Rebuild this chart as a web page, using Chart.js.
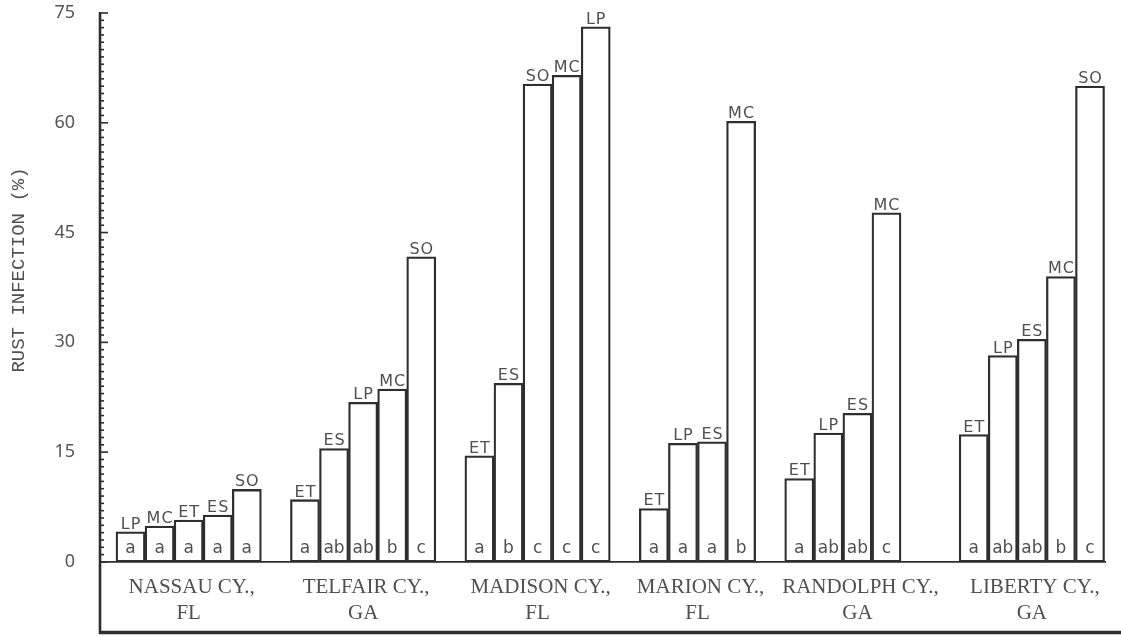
<!DOCTYPE html>
<html>
<head>
<meta charset="utf-8">
<title>Rust infection by county</title>
<script src="https://cdn.jsdelivr.net/npm/chart.js@4.4.1/dist/chart.umd.min.js"></script>
<style>
  html, body { margin: 0; padding: 0; background: #fff; }
  #wrap { width: 1121px; height: 637px; position: relative; }
</style>
</head>
<body>
<div id="wrap"><canvas id="rustChart"></canvas></div>
<script>
// counties (two-line labels)
const countyNames = ['NASSAU CY.,', 'TELFAIR CY.,', 'MADISON CY.,', 'MARION CY.,', 'RANDOLPH CY.,', 'LIBERTY CY.,'];
const countyStates = ['FL', 'GA', 'FL', 'FL', 'GA', 'GA'];

// treatments, rust infection (%) and mean-separation letters per county
const nassauTrt = ['LP', 'MC', 'ET', 'ES', 'SO'];
const nassauVals = [4.1, 4.9, 5.7, 6.4, 9.9];
const nassauLet = ['a', 'a', 'a', 'a', 'a'];

const telfairTrt = ['ET', 'ES', 'LP', 'MC', 'SO'];
const telfairVals = [8.5, 15.5, 21.8, 23.6, 41.7];
const telfairLet = ['a', 'ab', 'ab', 'b', 'c'];

const madisonTrt = ['ET', 'ES', 'SO', 'MC', 'LP'];
const madisonVals = [14.5, 24.4, 65.3, 66.5, 73.1];
const madisonLet = ['a', 'b', 'c', 'c', 'c'];

const marionTrt = ['ET', 'LP', 'ES', 'MC'];
const marionVals = [7.3, 16.2, 16.4, 60.2];
const marionLet = ['a', 'a', 'a', 'b'];

const randolphTrt = ['ET', 'LP', 'ES', 'MC'];
const randolphVals = [11.4, 17.6, 20.3, 47.7];
const randolphLet = ['a', 'ab', 'ab', 'c'];

const libertyTrt = ['ET', 'LP', 'ES', 'MC', 'SO'];
const libertyVals = [17.4, 28.2, 30.4, 39.0, 65.0];
const libertyLet = ['a', 'ab', 'ab', 'b', 'c'];

const yTicks = [0, 15, 30, 45, 60, 75];

// layout: bar slots reserved per county (Randolph keeps an empty fifth slot)
const groupSlots = [5, 5, 5, 4, 5, 5];

const INK = '#2e2e2e';
const TXT = '#505050';

const groups = [
  [nassauTrt, nassauVals, nassauLet],
  [telfairTrt, telfairVals, telfairLet],
  [madisonTrt, madisonVals, madisonLet],
  [marionTrt, marionVals, marionLet],
  [randolphTrt, randolphVals, randolphLet],
  [libertyTrt, libertyVals, libertyLet]
];

// build bar points and per-bar text from the arrays
const points = [], trtText = [], letText = [], groupRange = [];
let slot = 0;
groups.forEach((g, gi) => {
  g[1].forEach((v, i) => {
    points.push({ x: slot + i + 0.5, y: v });
    trtText.push(g[0][i]);
    letText.push(g[2][i]);
  });
  groupRange.push([slot, slot + groupSlots[gi]]);
  slot += groupSlots[gi] + 1;
});
const xMin = -0.55, xMax = slot - 1 + 0.05;

const decor = {
  id: 'decor',
  afterDatasetsDraw(chart) {
    const { ctx, chartArea: a, scales: { x, y } } = chart;
    const zero = y.getPixelForValue(0);
    const top = y.getPixelForValue(75);
    ctx.save();
    ctx.strokeStyle = INK;
    ctx.lineCap = 'butt';

    // zero line
    ctx.lineWidth = 1.6;
    ctx.beginPath(); ctx.moveTo(a.left, zero); ctx.lineTo(a.right, zero); ctx.stroke();
    // bottom frame line
    ctx.lineWidth = 3.5;
    ctx.beginPath(); ctx.moveTo(a.left - 1, a.bottom - 1.5); ctx.lineTo(chart.width, a.bottom - 1.5); ctx.stroke();
    // left axis
    ctx.lineWidth = 2.6;
    ctx.beginPath(); ctx.moveTo(a.left, top - 1); ctx.lineTo(a.left, a.bottom); ctx.stroke();
    // inside ticks, one per unit
    ctx.lineWidth = 1.6;
    for (let v = 0; v <= 75; v++) {
      const py = y.getPixelForValue(v);
      const len = v % 15 === 0 ? 8 : 4;
      ctx.beginPath(); ctx.moveTo(a.left, py); ctx.lineTo(a.left + len, py); ctx.stroke();
    }

    // treatment codes above bars, letters inside bars
    const meta = chart.getDatasetMeta(0);
    ctx.fillStyle = TXT;
    ctx.textAlign = 'center';
    ctx.textBaseline = 'alphabetic';
    meta.data.forEach((bar, i) => {
      ctx.font = '16px "DejaVu Sans"';
      ctx.letterSpacing = '1px';
      ctx.fillText(trtText[i], bar.x + 0.5, bar.y - 3);
      ctx.font = '17px "DejaVu Sans"';
      ctx.letterSpacing = '0px';
      ctx.fillText(letText[i], bar.x, zero - 9);
    });

    // county labels under the zero line
    ctx.font = '21px "Liberation Serif"';
    ctx.textBaseline = 'middle';
    groupRange.forEach((r, gi) => {
      const cx = x.getPixelForValue((r[0] + r[1]) / 2);
      ctx.fillText(countyNames[gi], cx + 3, zero + 26);
      ctx.fillText(countyStates[gi], cx, zero + 52);
    });

    // y title
    ctx.font = '19px "Liberation Mono"';
    ctx.translate(19, 270);
    ctx.rotate(-Math.PI / 2);
    ctx.fillText('RUST INFECTION (%)', 0, 0);
    ctx.restore();
  }
};

new Chart(document.getElementById('rustChart'), {
  type: 'bar',
  data: {
    datasets: [{
      data: points,
      backgroundColor: 'rgba(255,255,255,0)',
      borderColor: INK,
      borderWidth: 1.6,
      borderSkipped: false,
      barPercentage: 1,
      categoryPercentage: 1
    }]
  },
  options: {
    responsive: true,
    maintainAspectRatio: false,
    animation: false,
    layout: { padding: { top: 13, right: 15, bottom: 3, left: 0 } },
    plugins: { legend: { display: false }, tooltip: { enabled: false } },
    scales: {
      x: {
        type: 'linear',
        display: false,
        offset: false,
        min: xMin,
        max: xMax,
        afterBuildTicks: (axis) => { axis.ticks = points.map(p => ({ value: p.x })); }
      },
      y: {
        min: -9.85,
        max: 75,
        grid: { display: false, drawTicks: false },
        border: { display: false },
        afterBuildTicks: (axis) => { axis.ticks = yTicks.map(v => ({ value: v })); },
        afterFit: (axis) => {
          axis.width = 100;
          // label padding is horizontal only; keep the plot area to the layout padding
          axis.paddingTop = 0;
          axis.paddingBottom = 0;
        },
        ticks: {
          padding: 25,
          color: '#555',
          font: { family: '"Noto Sans"', size: 18 }
        }
      }
    }
  },
  plugins: [decor]
});
</script>
</body>
</html>
